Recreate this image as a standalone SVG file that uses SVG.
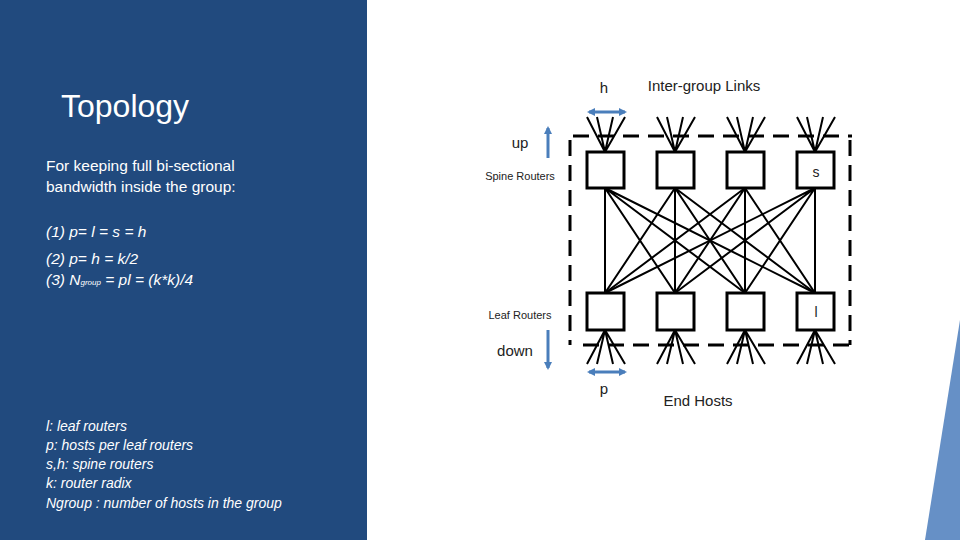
<svg xmlns="http://www.w3.org/2000/svg" width="960" height="540" viewBox="0 0 960 540">
<defs>
<marker id="ah" markerWidth="8" markerHeight="8" refX="6" refY="4" orient="auto-start-reverse" markerUnits="userSpaceOnUse"><path d="M0,0 L8,4 L0,8 z" fill="#4a7ebb"/></marker>
<style>
.t{font-family:"Liberation Sans",Arial,sans-serif;fill:#fff}
.i{font-style:italic}
.d{font-family:"Liberation Sans",Arial,sans-serif;fill:#222}
.box{fill:#fff;stroke:#000;stroke-width:3}
.ln{stroke:#000;stroke-width:2;fill:none}
.dash{stroke:#000;stroke-width:3;stroke-dasharray:16,9;fill:none}
.ba{stroke:#4a7ebb;stroke-width:3;fill:none}
</style>
</defs>
<rect width="960" height="540" fill="#fff"/>
<rect width="367" height="540" fill="#214a7e"/>
<polygon points="960,320 925,540 960,540" fill="#6690c6"/>
<g id="text-panel">
<text class="t" x="61" y="117" font-size="32">Topology</text>
<text class="t" x="46" y="171" font-size="15.5">For keeping full bi-sectional</text>
<text class="t" x="46" y="192" font-size="15.5">bandwidth inside the group:</text>
<text class="t i" x="46" y="237" font-size="15.5">(1) p= l = s = h</text>
<text class="t i" x="46" y="264" font-size="15.5">(2) p= h = k/2</text>
<text class="t i" x="46" y="285" font-size="15.5">(3) N<tspan font-size="8">group</tspan> = pl = (k*k)/4</text>
<text class="t i" x="46" y="431" font-size="14">l: leaf routers</text>
<text class="t i" x="46" y="450" font-size="14">p: hosts per leaf routers</text>
<text class="t i" x="46" y="469" font-size="14">s,h: spine routers</text>
<text class="t i" x="46" y="488" font-size="14">k: router radix</text>
<text class="t i" x="46" y="508" font-size="14">Ngroup : number of hosts in the group</text>
</g>
<g id="connectors">
<path class="dash" d="M573,136 H852 M570,140 V345 M850,140 V345 M583,345 H852"/>
<g class="ln">
<path d="M605,188 L605,293 M605,188 L675,293 M605,188 L745,293 M605,188 L815,293"/>
<path d="M675,188 L605,293 M675,188 L675,293 M675,188 L745,293 M675,188 L815,293"/>
<path d="M745,188 L605,293 M745,188 L675,293 M745,188 L745,293 M745,188 L815,293"/>
<path d="M815,188 L605,293 M815,188 L675,293 M815,188 L745,293 M815,188 L815,293"/>
</g>
<g class="ln">
<path d="M605,152 L587,117 M605,152 L597,117 M605,152 L613,117 M605,152 L625,117"/>
<path d="M675,152 L657,117 M675,152 L667,117 M675,152 L683,117 M675,152 L695,117"/>
<path d="M745,152 L727,117 M745,152 L737,117 M745,152 L753,117 M745,152 L765,117"/>
<path d="M815,152 L797,117 M815,152 L807,117 M815,152 L823,117 M815,152 L835,117"/>
<path d="M605,330 L587,364 M605,330 L597,364 M605,330 L613,364 M605,330 L625,364"/>
<path d="M675,330 L657,364 M675,330 L667,364 M675,330 L683,364 M675,330 L695,364"/>
<path d="M745,330 L727,364 M745,330 L737,364 M745,330 L753,364 M745,330 L765,364"/>
<path d="M815,330 L797,364 M815,330 L807,364 M815,330 L823,364 M815,330 L835,364"/>
</g>
<path class="ba" d="M589,112 H625" marker-start="url(#ah)" marker-end="url(#ah)"/>
<path class="ba" d="M589,372 H625" marker-start="url(#ah)" marker-end="url(#ah)"/>
<path class="ba" d="M548,158 V128" marker-end="url(#ah)"/>
<path class="ba" d="M548,330 V368" marker-end="url(#ah)"/>
</g>
<g id="spine1"><rect class="box" x="587" y="152" width="37" height="36"/></g>
<g id="spine2"><rect class="box" x="657" y="152" width="37" height="36"/></g>
<g id="spine3"><rect class="box" x="727" y="152" width="37" height="36"/></g>
<g id="spine4"><rect class="box" x="797" y="152" width="37" height="36"/><text class="d" x="816" y="177" font-size="14" text-anchor="middle">s</text></g>
<g id="leaf1"><rect class="box" x="587" y="293" width="37" height="37"/></g>
<g id="leaf2"><rect class="box" x="657" y="293" width="37" height="37"/></g>
<g id="leaf3"><rect class="box" x="727" y="293" width="37" height="37"/></g>
<g id="leaf4"><rect class="box" x="797" y="293" width="37" height="37"/><text class="d" x="816" y="317" font-size="14" text-anchor="middle">l</text></g>
<g id="labels">
<text class="d" x="604" y="93" font-size="15" text-anchor="middle">h</text>
<text class="d" x="704" y="91" font-size="15" text-anchor="middle">Inter-group Links</text>
<text class="d" x="520" y="148" font-size="15" text-anchor="middle">up</text>
<text class="d" x="520" y="180" font-size="11" text-anchor="middle">Spine Routers</text>
<text class="d" x="520" y="319" font-size="11" text-anchor="middle">Leaf Routers</text>
<text class="d" x="515" y="356" font-size="15" text-anchor="middle">down</text>
<text class="d" x="604" y="394" font-size="15" text-anchor="middle">p</text>
<text class="d" x="698" y="406" font-size="15" text-anchor="middle">End Hosts</text>
</g>
</svg>
